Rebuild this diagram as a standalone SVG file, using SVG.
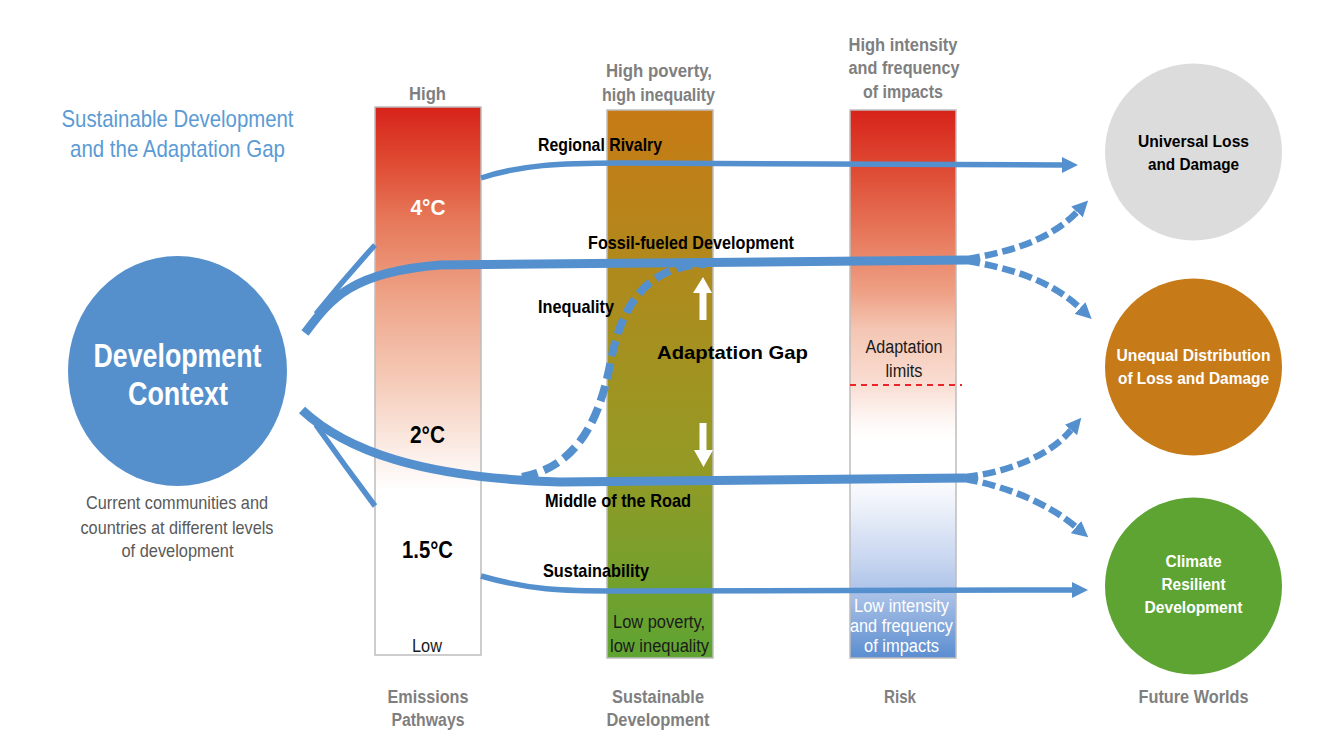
<svg xmlns="http://www.w3.org/2000/svg" width="1331" height="743" viewBox="0 0 1331 743">
<defs>
  <linearGradient id="gEm" x1="0" y1="0" x2="0" y2="1">
    <stop offset="0" stop-color="#D7231A"/>
    <stop offset="0.1" stop-color="#DF4A33"/>
    <stop offset="0.2" stop-color="#E67657"/>
    <stop offset="0.35" stop-color="#EEA488"/>
    <stop offset="0.5" stop-color="#F5CBB8"/>
    <stop offset="0.62" stop-color="#FBEBE4"/>
    <stop offset="0.7" stop-color="#FFFFFF"/>
    <stop offset="1" stop-color="#FFFFFF"/>
  </linearGradient>
  <linearGradient id="gSd" x1="0" y1="0" x2="0" y2="1">
    <stop offset="0" stop-color="#C77A15"/>
    <stop offset="0.4" stop-color="#A78F1F"/>
    <stop offset="0.65" stop-color="#949A25"/>
    <stop offset="1" stop-color="#5EA432"/>
  </linearGradient>
  <linearGradient id="gRk" x1="0" y1="0" x2="0" y2="1">
    <stop offset="0" stop-color="#D7231A"/>
    <stop offset="0.12" stop-color="#DF4F37"/>
    <stop offset="0.24" stop-color="#E87D60"/>
    <stop offset="0.33" stop-color="#EE9F84"/>
    <stop offset="0.4" stop-color="#F4C6B3"/>
    <stop offset="0.5" stop-color="#F9DDD2"/>
    <stop offset="0.57" stop-color="#FEF8F6"/>
    <stop offset="0.6" stop-color="#FFFFFF"/>
    <stop offset="0.66" stop-color="#FFFFFF"/>
    <stop offset="0.72" stop-color="#EEF2FA"/>
    <stop offset="0.82" stop-color="#C8D6F0"/>
    <stop offset="0.89" stop-color="#A7BFE6"/>
    <stop offset="1" stop-color="#5A8DD0"/>
  </linearGradient>
  <marker id="ah" markerUnits="userSpaceOnUse" viewBox="0 0 16 16" markerWidth="16" markerHeight="16" refX="0" refY="8" orient="auto">
    <path d="M0,0 L16,8 L0,16 z" fill="#5590CE"/>
  </marker>
</defs>
<style>
  text { font-family: "Liberation Sans", Arial, sans-serif; }
  .c { text-anchor: middle; }
  .title { fill: #5B9BD5; font-size: 24px; }
  .sub { fill: #595959; font-size: 18.5px; }
  .hdr { fill: #7F7F7F; font-size: 18px; font-weight: bold; }
  .lbl { fill: #000000; font-size: 19px; font-weight: bold; }
  .reg { fill: #1A1A1A; font-size: 18px; }
  .wreg { fill: #FFFFFF; font-size: 18px; }
  .ctxt { font-size: 16px; font-weight: bold; }
  .bar { stroke: #BDBDBD; stroke-width: 1.5; }
  .thin { fill: none; stroke: #5590CE; stroke-width: 5.5; }
  .thick { fill: none; stroke: #5590CE; stroke-width: 9; }
  .dash { fill: none; stroke: #5590CE; stroke-width: 6.5; stroke-dasharray: 13 5; }
  .dash2 { fill: none; stroke: #5590CE; stroke-width: 8; stroke-dasharray: 16 7; }
</style>
<rect width="1331" height="743" fill="#FFFFFF"/>

<g id="title">
  <text class="title c" x="177.5" y="127" textLength="232" lengthAdjust="spacingAndGlyphs">Sustainable Development</text>
  <text class="title c" x="177.5" y="157" textLength="215" lengthAdjust="spacingAndGlyphs">and the Adaptation Gap</text>
</g>

<g id="bar-emissions">
  <rect class="bar" x="375" y="107" width="106" height="548" fill="url(#gEm)"/>
  <text class="hdr c" x="427.5" y="100" textLength="37" lengthAdjust="spacingAndGlyphs">High</text>
  <text class="c" x="428" y="215" fill="#FFFFFF" font-size="22" font-weight="bold" textLength="35" lengthAdjust="spacingAndGlyphs">4°C</text>
  <text class="c" x="427.5" y="443" fill="#000" font-size="24" font-weight="bold" textLength="35" lengthAdjust="spacingAndGlyphs">2°C</text>
  <text class="c" x="427.5" y="558" fill="#000" font-size="24" font-weight="bold" textLength="51" lengthAdjust="spacingAndGlyphs">1.5°C</text>
  <text class="reg c" x="427" y="652" textLength="30" lengthAdjust="spacingAndGlyphs">Low</text>
  <text class="hdr c" x="428" y="703" textLength="81" lengthAdjust="spacingAndGlyphs">Emissions</text>
  <text class="hdr c" x="428" y="726" textLength="73" lengthAdjust="spacingAndGlyphs">Pathways</text>
</g>

<g id="bar-sustainable">
  <rect class="bar" x="607" y="110" width="106" height="548" fill="url(#gSd)"/>
  <text class="hdr c" x="659" y="77" textLength="106" lengthAdjust="spacingAndGlyphs">High poverty,</text>
  <text class="hdr c" x="658.5" y="101" textLength="113" lengthAdjust="spacingAndGlyphs">high inequality</text>
  <text class="reg c" x="659" y="628" textLength="92" lengthAdjust="spacingAndGlyphs">Low poverty,</text>
  <text class="reg c" x="659.5" y="652" textLength="99" lengthAdjust="spacingAndGlyphs">low inequality</text>
  <text class="hdr c" x="658" y="703" textLength="92" lengthAdjust="spacingAndGlyphs">Sustainable</text>
  <text class="hdr c" x="658" y="726" textLength="103" lengthAdjust="spacingAndGlyphs">Development</text>
</g>

<g id="bar-risk">
  <rect class="bar" x="850" y="110" width="106" height="548" fill="url(#gRk)"/>
  <path d="M850,385 L962,385" stroke="#E8262A" stroke-width="2" stroke-dasharray="6 5" fill="none"/>
  <text class="hdr c" x="903" y="51" textLength="109" lengthAdjust="spacingAndGlyphs">High intensity</text>
  <text class="hdr c" x="904" y="74" textLength="111" lengthAdjust="spacingAndGlyphs">and frequency</text>
  <text class="hdr c" x="903" y="98" textLength="80" lengthAdjust="spacingAndGlyphs">of impacts</text>
  <text class="reg c" x="904" y="353" textLength="77" lengthAdjust="spacingAndGlyphs">Adaptation</text>
  <text class="reg c" x="904" y="377" textLength="37" lengthAdjust="spacingAndGlyphs">limits</text>
  <text class="wreg c" x="901.5" y="612" textLength="95" lengthAdjust="spacingAndGlyphs">Low intensity</text>
  <text class="wreg c" x="901.5" y="632" textLength="103" lengthAdjust="spacingAndGlyphs">and frequency</text>
  <text class="wreg c" x="901.5" y="652" textLength="75" lengthAdjust="spacingAndGlyphs">of impacts</text>
  <text class="hdr c" x="900" y="703" textLength="32" lengthAdjust="spacingAndGlyphs">Risk</text>
</g>

<g id="connectors">
  <!-- left thin segments (behind emissions bar) -->
  <path class="thin" d="M316,314 Q345,278 375,245"/>
  <path class="thin" d="M316,425 Q345,466 375,506"/>
  <!-- Regional Rivalry -->
  <path class="thin" d="M481,178 C520,165 560,163 620,163 L1062,165" marker-end="url(#ah)"/>
  <!-- Sustainability -->
  <path class="thin" d="M481,576 C530,590 560,591 620,591 L1072,590" marker-end="url(#ah)"/>
  <!-- Fossil-fueled -->
  <path class="thick" d="M305,333 C330,300 350,272 440,265 L967,260"/>
  <path class="dash" d="M967,259 C1010,252 1050,240 1077,212" marker-end="url(#ah)"/>
  <path class="dash" d="M967,261 C1010,268 1050,280 1080,308" marker-end="url(#ah)"/>
  <!-- Middle of the Road -->
  <path class="thick" d="M302,410 C345,450 420,478 560,482 L965,478"/>
  <path class="dash" d="M965,477 C1010,472 1050,455 1071,430" marker-end="url(#ah)"/>
  <path class="dash" d="M965,479 C1010,487 1050,505 1076,527" marker-end="url(#ah)"/>
  <!-- Inequality -->
  <path class="dash2" d="M522,477 C580,466 600,415 610,365 C622,300 650,266 705,264"/>
  <!-- adaptation gap arrows -->
  <path d="M699.5,320 L699.5,293 L693,293 L703,277 L712,293 L706.5,293 L706.5,320 z" fill="#FFFFFF"/>
  <path d="M699.5,423 L699.5,450 L694,450 L703.5,467 L713,450 L706.5,450 L706.5,423 z" fill="#FFFFFF"/>
</g>

<g id="labels">
  <text class="lbl" x="538" y="151" textLength="124" lengthAdjust="spacingAndGlyphs">Regional Rivalry</text>
  <text class="lbl" x="588" y="249" textLength="206" lengthAdjust="spacingAndGlyphs">Fossil-fueled Development</text>
  <text class="lbl" x="538" y="313" textLength="76" lengthAdjust="spacingAndGlyphs">Inequality</text>
  <text class="lbl" x="657" y="359" font-size="25.5" textLength="151" lengthAdjust="spacingAndGlyphs">Adaptation Gap</text>
  <text class="lbl" x="545" y="507" textLength="146" lengthAdjust="spacingAndGlyphs">Middle of the Road</text>
  <text class="lbl" x="543" y="577" textLength="106" lengthAdjust="spacingAndGlyphs">Sustainability</text>
</g>

<g id="development-context">
  <ellipse cx="177.5" cy="371" rx="109.5" ry="115" fill="#5590CC"/>
  <text class="c" x="177.5" y="367" fill="#FFFFFF" font-size="33" font-weight="bold" textLength="168" lengthAdjust="spacingAndGlyphs">Development</text>
  <text class="c" x="178" y="405" fill="#FFFFFF" font-size="33" font-weight="bold" textLength="100" lengthAdjust="spacingAndGlyphs">Context</text>
  <text class="sub c" x="177" y="509" textLength="182" lengthAdjust="spacingAndGlyphs">Current communities and</text>
  <text class="sub c" x="177" y="534" textLength="193" lengthAdjust="spacingAndGlyphs">countries at different levels</text>
  <text class="sub c" x="177.5" y="557" textLength="112" lengthAdjust="spacingAndGlyphs">of development</text>
</g>

<g id="universal-loss">
  <circle cx="1193.5" cy="152" r="88.5" fill="#DCDCDC"/>
  <text class="ctxt c" x="1193.5" y="147" fill="#000" textLength="111" lengthAdjust="spacingAndGlyphs">Universal Loss</text>
  <text class="ctxt c" x="1193.5" y="170" fill="#000" textLength="91" lengthAdjust="spacingAndGlyphs">and Damage</text>
</g>

<g id="unequal-distribution">
  <circle cx="1193.5" cy="367" r="88.5" fill="#C77A18"/>
  <text class="ctxt c" x="1193.5" y="361" fill="#FFFFFF" textLength="154" lengthAdjust="spacingAndGlyphs">Unequal Distribution</text>
  <text class="ctxt c" x="1193.5" y="384" fill="#FFFFFF" textLength="151" lengthAdjust="spacingAndGlyphs">of Loss and Damage</text>
</g>

<g id="climate-resilient">
  <circle cx="1193.5" cy="586" r="88.5" fill="#5DA433"/>
  <text class="ctxt c" x="1193.5" y="567" fill="#FFFFFF" textLength="56" lengthAdjust="spacingAndGlyphs">Climate</text>
  <text class="ctxt c" x="1193.5" y="590" fill="#FFFFFF" textLength="64" lengthAdjust="spacingAndGlyphs">Resilient</text>
  <text class="ctxt c" x="1193.5" y="613" fill="#FFFFFF" textLength="98" lengthAdjust="spacingAndGlyphs">Development</text>
  <text class="hdr c" x="1193.5" y="703" textLength="110" lengthAdjust="spacingAndGlyphs">Future Worlds</text>
</g>
</svg>
